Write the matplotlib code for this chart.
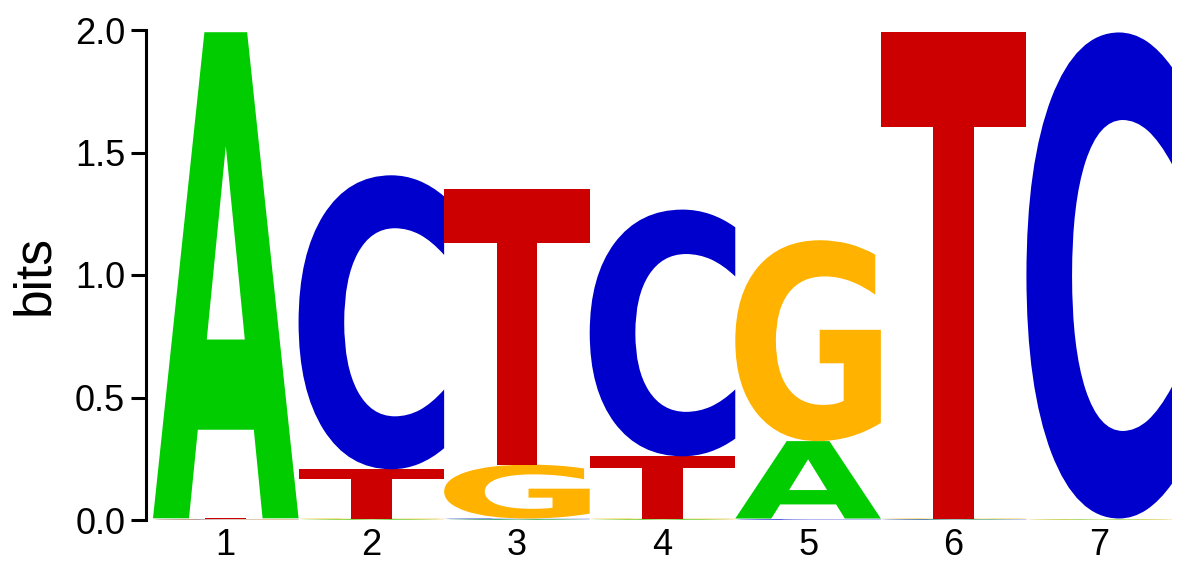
import matplotlib
matplotlib.use('Agg')
import matplotlib.pyplot as plt
from matplotlib.textpath import TextPath
from matplotlib.patches import PathPatch
from matplotlib.font_manager import FontProperties
from matplotlib.transforms import Affine2D

# motif positions and per-base information content (bits)
positions = [1, 2, 3, 4, 5, 6, 7]
bases = ['A', 'C', 'G', 'T']
height_A = [1.984, 0.003, 0.003, 0.003, 0.316, 0.002, 0.002]
height_C = [0.002, 1.200, 0.003, 1.007, 0.003, 0.002, 1.984]
height_G = [0.002, 0.003, 0.220, 0.003, 0.820, 0.002, 0.002]
height_T = [0.003, 0.201, 1.123, 0.254, 0.003, 1.984, 0.002]
y_ticks = [0.0, 0.5, 1.0, 1.5, 2.0]

COLORS = {'A': '#00cc00', 'C': '#0000cc', 'G': '#ffb300', 'T': '#cc0000'}
plt.rcParams['font.family'] = ['Liberation Sans', 'DejaVu Sans']

glyph_font = FontProperties(family='DejaVu Sans', weight='bold')


def draw_letter(ax, ch, xc, y0, w, h, color):
    # stretch the glyph outline so it fills the (w x h) box exactly
    tp = TextPath((0, 0), ch, size=1, prop=glyph_font)
    ext = tp.get_extents()
    tr = (Affine2D().translate(-ext.x0, -ext.y0)
          .scale(w / ext.width, h / ext.height)
          .translate(xc - w / 2, y0))
    ax.add_patch(PathPatch(tr.transform_path(tp), facecolor=color,
                           edgecolor='none', lw=0))


fig = plt.figure(figsize=(11.94, 5.65), dpi=100)
ax = fig.add_axes([146 / 1194, 45 / 565, (1172 - 146) / 1194, 490 / 565])

heights = {'A': height_A, 'C': height_C, 'G': height_G, 'T': height_T}
for i, pos in enumerate(positions):
    col = sorted(bases, key=lambda b: heights[b][i])  # smallest at bottom
    y = 0.0
    for b in col:
        h = heights[b][i]
        draw_letter(ax, b, pos, y, 1.0, h, COLORS[b])
        y += h

ax.set_xlim(0.452, 7.5)
ax.set_ylim(0, 2.0)
ax.set_xticks(positions)
ax.set_xticklabels([str(p) for p in positions])
ax.set_yticks(y_ticks)
ax.set_yticklabels([f'{v:.1f}' for v in y_ticks])
for s in ['top', 'right', 'bottom']:
    ax.spines[s].set_visible(False)
ax.spines['left'].set_linewidth(2.2)
ax.tick_params(axis='y', length=11, width=2.2, labelsize=26, pad=4)
ax.tick_params(axis='x', length=0, labelsize=26, pad=6)
ax.set_ylabel('bits', fontsize=37, labelpad=11)

fig.savefig('out.png', dpi=100)
